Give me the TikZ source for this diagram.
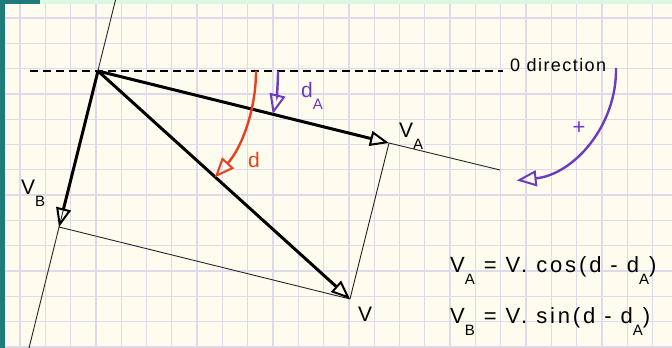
\documentclass[tikz,border=0pt]{standalone}
\usepackage{fontspec}
\setmainfont{Liberation Sans}[LetterSpace=6]
\usetikzlibrary{arrows.meta, calc}
\definecolor{teal}{HTML}{1F7B79}
\definecolor{paper}{HTML}{FDFCEE}
\definecolor{gridc}{HTML}{E0D9EA}
\definecolor{mint}{HTML}{DDF8E2}
\definecolor{redc}{HTML}{E8401C}
\definecolor{purp}{HTML}{6A3CC0}
\newcommand\lsub[1]{\raisebox{-12pt}{\fontsize{15}{15}\selectfont #1}}

\begin{document}
\begin{tikzpicture}[
    x=1pt, y=-1pt,
    gridline/.style={gridc, line width=1.3pt},
    vec/.style={line width=3pt,
                -{Triangle[open, length=19pt, width=15pt, line width=2pt]}},
    thin/.style={black!85, line width=0.9pt},
    zeroline/.style={line width=2.6pt, dash pattern=on 8pt off 5pt},
    anglearc/.style={line width=2.4pt,
                -{Triangle[open, length=20pt, width=16pt, line width=2pt]}},
    lbl/.style={font=\fontsize{21}{21}\selectfont, anchor=base west, inner sep=0pt},
    eqn/.style={font=\fontsize{22}{22}\selectfont\addfontfeature{LetterSpace=13},
                anchor=base west, inner sep=0pt},
    dirlbl/.style={font=\fontsize{18}{18}\selectfont\addfontfeature{LetterSpace=8},
                anchor=base west, inner sep=0pt}
]
\useasboundingbox (0,0) rectangle (672,348);

% ---------- paper and grid ----------
\fill[paper] (0,0) rectangle (672,348);
\begin{scope}
  \clip (0,0) rectangle (672,348);
  \foreach \k in {0,...,25}
    \draw[gridline] ({20+25.3*\k},0) -- ({20+25.3*\k},348);
  \foreach \k in {0,...,13}
    \draw[gridline] (0,{18+25.3*\k}) -- (672,{18+25.3*\k});
\end{scope}
\fill[mint] (40,0) rectangle (672,4);
\fill[teal] (0,0) rectangle (40,4);
\fill[teal] (0,0) rectangle (5,348);

% ---------- points ----------
\coordinate (O) at (98,71);
\coordinate (A) at (389,143);
\coordinate (B) at (59,227);
\coordinate (V) at (350,299);
\coordinate (aend) at (500,170);
\coordinate (btop) at (115.5,0);
\coordinate (bbot) at (29,348);
\coordinate (zstart) at (30,71);
\coordinate (zend) at (503,71);
\coordinate (pc) at (505,70);

% ---------- axes ----------
\draw[zeroline] (zstart) -- (zend);
\draw[thin] (btop) -- (bbot);
\draw[thin] (A) -- (aend);
\draw[thin] (A) -- (V);
\draw[thin] (B) -- (V);

% ---------- vectors ----------
\draw[vec] (O) -- (A);
\draw[vec] (O) -- (B);
\draw[vec] (O) -- (V);

% ---------- angles ----------
\draw[anglearc, redc] ($(O)+(0:158)$) arc[start angle=0, end angle=42.4, radius=158];
\draw[anglearc, purp] ($(O)+(0:180)$) arc[start angle=0, end angle=13.85, radius=180];
\draw[anglearc, purp] ($(pc)+(-1:111)$) arc[start angle=-1, end angle=84, radius=111];

% ---------- labels ----------
\node[lbl] (lA) at (399,137) {V\lsub{A}};
\node[lbl] (lB) at (21,194) {V\lsub{B}};
\node[lbl] (lV) at (358,321) {V};
\node[lbl, redc] (ld) at (248,167) {d};
\node[lbl, purp] (ldA) at (301,97) {d\lsub{A}};
\node[font=\fontsize{22}{22}\selectfont, purp, inner sep=0pt] (plus) at (579,128) {+};
\node[dirlbl] (zlbl) at (510,71) {0 direction};
\node[eqn] (eqA) at (450,272) {V\lsub{A} = V. cos(d - d\lsub{A})};
\node[eqn] (eqB) at (450,323) {V\lsub{B} = V. sin(d - d\lsub{A})};

\end{tikzpicture}
\end{document}
